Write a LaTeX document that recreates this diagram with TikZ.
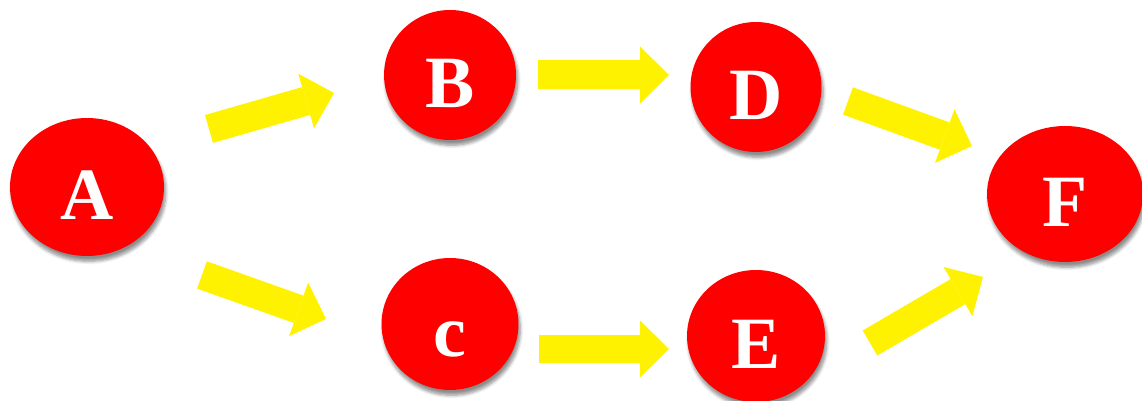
\documentclass[tikz,border=0pt]{standalone}
\usepackage{fontspec}
\setmainfont{Liberation Serif}
\usetikzlibrary{shapes.geometric, arrows.meta, shadows.blur}

\begin{document}
\begin{tikzpicture}[x=0.02cm, y=-0.02cm,
		stage/.style={ellipse, fill=red, inner sep=0pt, text=white,
			font=\fontsize{42}{42}\selectfont\bfseries, text height=1.32cm, text depth=0cm,
			blur shadow={shadow xshift=1pt, shadow yshift=-3pt, shadow blur steps=6, shadow opacity=45}},
		flow/.style={line width=0.58cm, yellow, -{Triangle[line width=0pt, length=0.58cm, width=1.14cm]}}]
	\useasboundingbox (0,0) rectangle (1142,401);
	
	% Draw the stages
	\node[stage, minimum width=3.08cm, minimum height=2.76cm] (A) at (87,187) {A};
	\node[stage, minimum width=2.64cm, minimum height=2.6cm] (B) at (450,75) {B};
	\node[stage, minimum width=2.74cm, minimum height=2.64cm] (C) at (450,324) {c};
	\node[stage, minimum width=2.62cm, minimum height=2.6cm] (D) at (756,87) {D};
	\node[stage, minimum width=2.76cm, minimum height=2.64cm] (E) at (756,336) {E};
	\node[stage, minimum width=3.12cm, minimum height=2.72cm] (F) at (1065,194) {F};
	
	% Draw the yellow arrows between them
	\draw[flow] ([shift={(122,-58)}]A.center) -- ([shift={(-116,18)}]B.center);
	\draw[flow] ([shift={(115,88)}]A.center) -- ([shift={(-124,-5)}]C.center);
	\draw[flow] ([shift={(88,0)}]B.center) -- ([shift={(-87,-12)}]D.center);
	\draw[flow] ([shift={(89,25)}]C.center) -- ([shift={(-87,13)}]E.center);
	\draw[flow] ([shift={(92,14)}]D.center) -- ([shift={(-93,-48)}]F.center);
	\draw[flow] ([shift={(114,7)}]E.center) -- ([shift={(-82,83)}]F.center);
\end{tikzpicture}
\end{document}
